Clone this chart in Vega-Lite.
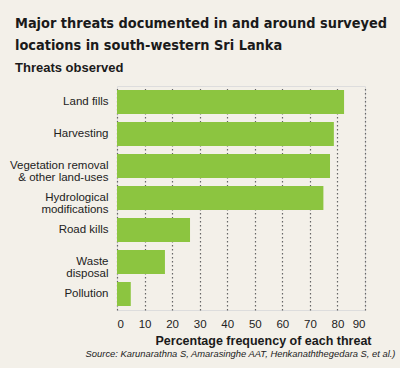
{
  "$schema": "https://vega.github.io/schema/vega-lite/v6.json",
  "autosize": "none",
  "width": 248,
  "height": 224,
  "padding": {"left": 117, "top": 86, "right": 35, "bottom": 58},
  "background": "#f3f0e9",
  "title": {
    "text": ["Major threats documented in and around surveyed", "locations in south-western Sri Lanka"],
    "subtitle": "Threats observed",
    "anchor": "start",
    "frame": "group",
    "dx": -102,
    "offset": 10,
    "font": "DejaVu Sans Condensed",
    "fontSize": 14.4,
    "fontWeight": "bold",
    "lineHeight": 22,
    "color": "#1a1a1a",
    "subtitleFont": "Liberation Sans",
    "subtitleFontSize": 13,
    "subtitleFontWeight": "bold",
    "subtitleColor": "#1a1a1a",
    "subtitlePadding": 9
  },
  "data": {
    "values": [
      {"threat": "Land fills", "pct": 82.4},
      {"threat": "Harvesting", "pct": 78.7},
      {"threat": "Vegetation removal|& other land-uses", "pct": 77.3},
      {"threat": "Hydrological|modifications", "pct": 74.9},
      {"threat": "Road kills", "pct": 26.5},
      {"threat": "Waste|disposal", "pct": 17.4},
      {"threat": "Pollution", "pct": 5.0}
    ]
  },
  "resolve": {"axis": {"x": "independent"}},
  "layer": [
    {
      "mark": {"type": "bar", "color": "#8cc540"},
      "encoding": {
        "y": {
          "field": "threat", "type": "nominal", "sort": null,
          "scale": {"paddingInner": 0.25, "paddingOuter": 0.125},
          "axis": {
            "title": null, "ticks": false, "domain": false,
            "labelExpr": "split(datum.value, '|')",
            "labelFont": "Liberation Sans", "labelFontSize": 11.5,
            "labelColor": "#222", "labelPadding": 9, "labelLineHeight": 12
          }
        },
        "x": {
          "field": "pct", "type": "quantitative",
          "scale": {"domain": [0, 90], "nice": false},
          "axis": {
            "values": [0, 10, 20, 30, 40, 50, 60, 70, 80, 90],
            "title": "Percentage frequency of each threat",
            "titleFont": "Liberation Sans", "titleFontSize": 12.5, "titleFontWeight": "bold",
            "titleColor": "#1a1a1a", "titleX": 146, "titleY": 34, "titleBaseline": "alphabetic",
            "ticks": false, "domain": false,
            "grid": true, "gridDash": [1.5, 2.5], "gridColor": "#666", "gridWidth": 1.2,
            "labelFont": "Liberation Sans", "labelFontSize": 11.5, "labelColor": "#222",
            "labelPadding": 8
          }
        }
      }
    },
    {
      "mark": {"type": "bar", "opacity": 0},
      "encoding": {
        "y": {"field": "threat", "type": "nominal", "sort": null},
        "x": {
          "field": "pct", "type": "quantitative",
          "axis": {
            "title": "Source: Karunarathna S, Amarasinghe AAT, Henkanaththegedara S, et al.)",
            "labels": false, "ticks": false, "domain": false, "grid": false,
            "titleFont": "Liberation Sans", "titleFontSize": 9.4, "titleFontStyle": "italic",
            "titleFontWeight": "normal", "titleColor": "#222",
            "titleX": 278, "titleAlign": "right", "titleY": 270, "titleBaseline": "alphabetic"
          }
        }
      }
    }
  ]
}
